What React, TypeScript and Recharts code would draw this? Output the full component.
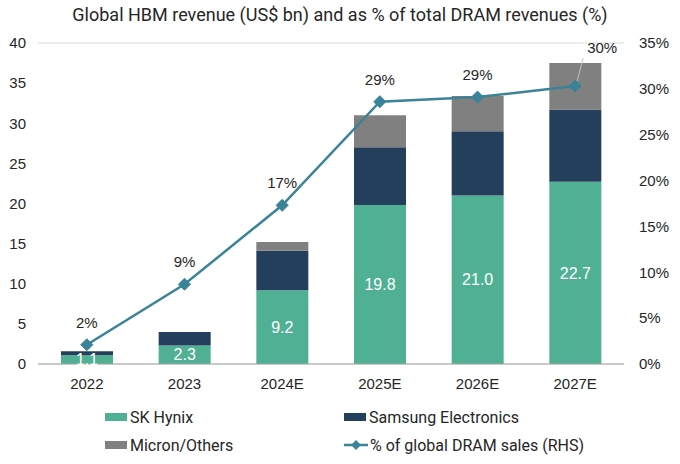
import React from 'react';
import { ComposedChart, Bar, Line, XAxis, YAxis, CartesianGrid, LabelList, Legend } from 'recharts';

const years = ['2022', '2023', '2024E', '2025E', '2026E', '2027E'];
const skHynix = [1.1, 2.3, 9.2, 19.8, 21.0, 22.7];
const samsung = [0.5, 1.7, 4.9, 7.2, 8.0, 9.0];
const micron = [0.0, 0.0, 1.1, 4.0, 4.4, 5.8];
const dramShare = [2.1, 8.7, 17.3, 28.6, 29.1, 30.3];
const leftTicks = [0, 5, 10, 15, 20, 25, 30, 35, 40];
const rightTicks = [0, 5, 10, 15, 20, 25, 30, 35];
const seriesNames = ['SK Hynix', 'Samsung Electronics', 'Micron/Others', '% of global DRAM sales (RHS)'];

const COLORS = { sk: '#50B094', samsung: '#243F5C', micron: '#808080', line: '#3A8399' };
const FONT = 'Roboto, "Open Sans", sans-serif';
const TICKFONT = '"Liberation Sans", Arial, sans-serif';
const TXT = '#262626';

const data = years.map((y, i) => ({ year: y, sk: skHynix[i], samsung: samsung[i], micron: micron[i], share: dramShare[i] }));

const Diamond = (props: any) => {
  const { cx, cy } = props;
  if (cx == null || cy == null) return null;
  const r = 6;
  return <polygon points={`${cx},${cy - r} ${cx + r},${cy} ${cx},${cy + r} ${cx - r},${cy}`} fill={COLORS.line} stroke={COLORS.line} />;
};

const ShareLabel = (props: any) => {
  const { x, y, value, index } = props;
  const text = `${Math.round(value)}%`;
  if (index === years.length - 1) {
    return (
      <g>
        <line x1={x + 8} y1={y - 28} x2={x + 2} y2={y - 5} stroke="#BFBFBF" strokeWidth={1} />
        <text x={x + 27} y={y - 33} textAnchor="middle" fontSize={15} fill={TXT} fontFamily={TICKFONT}>{text}</text>
      </g>
    );
  }
  return <text x={x} y={y - 17} textAnchor="middle" fontSize={15} fill={TXT} fontFamily={TICKFONT}>{text}</text>;
};

const CustomLegend = () => {
  const items = [
    { name: seriesNames[0], color: COLORS.sk, type: 'box' },
    { name: seriesNames[1], color: COLORS.samsung, type: 'box' },
    { name: seriesNames[2], color: COLORS.micron, type: 'box' },
    { name: seriesNames[3], color: COLORS.line, type: 'line' },
  ];
  return (
    <div style={{ height: 64, width: 680, position: 'relative', fontFamily: FONT, fontSize: 16, color: TXT }}>
      {items.map((it, i) => {
        const col = i % 2;
        const row = Math.floor(i / 2);
        const left = col === 0 ? 105 : 344;
        const top = row === 0 ? 7 : 35;
        return (
          <div key={it.name} style={{ position: 'absolute', left, top, display: 'flex', alignItems: 'center', whiteSpace: 'nowrap', height: 20 }}>
            {it.type === 'box' ? (
              <div style={{ width: 22, height: 8, background: it.color, marginRight: 3 }} />
            ) : (
              <svg width={24} height={12} style={{ marginRight: 2 }}>
                <line x1={0} y1={6} x2={24} y2={6} stroke={it.color} strokeWidth={2.5} />
                <polygon points="12,1 17,6 12,11 7,6" fill={it.color} />
              </svg>
            )}
            <span>{it.name}</span>
          </div>
        );
      })}
    </div>
  );
};

export default function App() {
  return (
    <div style={{ position: 'absolute', left: 0, top: 0, width: 680, height: 464, background: '#fff' }}>
      <div style={{ position: 'absolute', left: 0, top: 4, width: 680, textAlign: 'center', fontFamily: FONT, fontSize: 18, color: TXT }}>
        Global HBM revenue (US$ bn) and as % of total DRAM revenues (%)
      </div>
      <ComposedChart width={680} height={464} data={data} margin={{ top: 43, right: 0, left: 0, bottom: 0 }} barSize={52}>
        <CartesianGrid vertical={false} stroke="#D9D9D9" />
        <XAxis dataKey="year" tickLine={false} axisLine={{ stroke: '#A6A6A6' }} height={36} tickMargin={8}
          tick={{ fontSize: 15, fill: TXT, fontFamily: TICKFONT }} />
        <YAxis yAxisId="left" domain={[0, 40]} ticks={leftTicks} width={38} axisLine={false} tickLine={false} tickMargin={6}
          tick={{ fontSize: 15, fill: TXT, fontFamily: TICKFONT }} interval={0} />
        <YAxis yAxisId="right" orientation="right" domain={[0, 35]} ticks={rightTicks} width={56} axisLine={false} tickLine={false} tickMargin={9}
          tickFormatter={(v: number) => `${v}%`} tick={{ fontSize: 15, fill: TXT, fontFamily: TICKFONT }} interval={0} />
        <Legend verticalAlign="bottom" content={() => <CustomLegend />} wrapperStyle={{ left: 0, bottom: 0, width: 680 }} />
        <Bar yAxisId="left" dataKey="sk" stackId="a" fill={COLORS.sk} name={seriesNames[0]} isAnimationActive={false}>
          <LabelList dataKey="sk" position="center" fill="#FFFFFF" fontSize={16} fontFamily={TICKFONT} formatter={(v: number) => v.toFixed(1)} />
        </Bar>
        <Bar yAxisId="left" dataKey="samsung" stackId="a" fill={COLORS.samsung} name={seriesNames[1]} isAnimationActive={false} />
        <Bar yAxisId="left" dataKey="micron" stackId="a" fill={COLORS.micron} name={seriesNames[2]} isAnimationActive={false} />
        <Line yAxisId="right" dataKey="share" stroke={COLORS.line} strokeWidth={2.5} name={seriesNames[3]} dot={<Diamond />} activeDot={false} isAnimationActive={false}>
          <LabelList dataKey="share" content={<ShareLabel />} />
        </Line>
      </ComposedChart>
    </div>
  );
}
